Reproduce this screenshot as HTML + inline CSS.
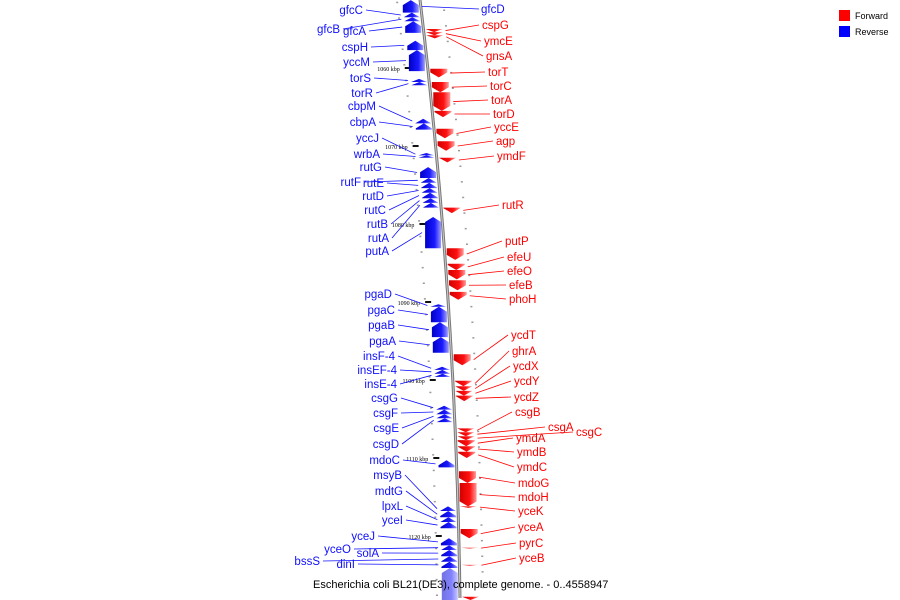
<!DOCTYPE html>
<html><head><meta charset="utf-8"><style>
body{margin:0;background:#fff;}
svg{display:block;font-family:"Liberation Sans","DejaVu Sans",sans-serif;}
</style></head><body>
<svg id="map" width="900" height="600" viewBox="0 0 900 600">
<defs>
<linearGradient id="gb" x1="0" x2="1" y1="0" y2="0"><stop offset="0" stop-color="#0000c8"/><stop offset="0.6" stop-color="#1a1aff"/><stop offset="1" stop-color="#9a9aff"/></linearGradient>
<linearGradient id="gr" x1="0" x2="1" y1="0" y2="0"><stop offset="0" stop-color="#d00000"/><stop offset="0.6" stop-color="#ff1010"/><stop offset="1" stop-color="#ff9a9a"/></linearGradient>
<linearGradient id="ga" x1="0" x2="1"><stop offset="0" stop-color="#aaa"/><stop offset="0.5" stop-color="#555"/><stop offset="1" stop-color="#bbb"/></linearGradient>
</defs>
<g id="layer"></g>
<text x="313" y="588" font-size="11" fill="#000">Escherichia coli BL21(DE3), complete genome. - 0..4558947</text>
<g>
<rect x="839" y="10" width="11" height="11" fill="#ff0000"/>
<text x="855" y="19" font-size="9">Forward</text>
<rect x="839" y="26" width="11" height="11" fill="#0000ff"/>
<text x="855" y="35" font-size="9">Reverse</text>
</g>
</svg>
<script>
// gene data: name, strand (+1 forward / -1 reverse), start kbp, end kbp
const geneNames = ["gfcD","gfcC","gfcB","gfcA","cspH","yccM","torS","torR","cbpM","cbpA","yccJ","wrbA","rutG","rutF","rutE","rutD","rutC","rutB","rutA","putA","pgaD","pgaC","pgaB","pgaA","insF-4","insEF-4","insE-4","csgG","csgF","csgE","csgD","mdoC","msyB","mdtG","lpxL","yceI","yceJ","yceO","solA","bssS","dinI","",
"cspG","ymcE","gnsA","torT","torC","torA","torD","yccE","agp","ymdF","rutR","putP","efeU","efeO","efeB","phoH","ycdT","ghrA","ycdX","ycdY","ycdZ","csgB","csgA","csgC","ymdA","ymdB","ymdC","mdoG","mdoH","yceK","yceA","pyrC","yceB",""];
const geneStrand = [-1,-1,-1,-1,-1,-1,-1,-1,-1,-1,-1,-1,-1,-1,-1,-1,-1,-1,-1,-1,-1,-1,-1,-1,-1,-1,-1,-1,-1,-1,-1,-1,-1,-1,-1,-1,-1,-1,-1,-1,-1,-1,
1,1,1,1,1,1,1,1,1,1,1,1,1,1,1,1,1,1,1,1,1,1,1,1,1,1,1,1,1,1,1,1,1,1];
const geneStart = [1051.3,1052.9,1053.5,1054.0,1056.5,1057.7,1061.4,1061.8,1066.5,1067.1,1070.9,1071.2,1072.7,1074.1,1074.7,1075.4,1076.0,1076.7,1077.3,1079.1,1090.3,1090.6,1092.6,1094.5,1098.3,1098.7,1099.2,1103.3,1103.8,1104.4,1104.9,1110.3,1116.2,1116.8,1117.6,1118.2,1120.3,1121.2,1121.8,1122.6,1123.3,1124.1,
1055.0,1055.4,1055.8,1060.1,1061.8,1063.1,1065.5,1067.8,1069.4,1071.5,1077.9,1083.1,1085.1,1085.9,1087.2,1088.7,1096.7,1100.1,1100.8,1101.4,1102.0,1106.2,1106.7,1107.2,1107.7,1108.5,1109.2,1111.7,1113.2,1116.2,1119.1,1121.5,1123.7,1127.8];
const geneEnd = [1052.9,1053.5,1054.0,1055.5,1057.7,1060.4,1061.8,1062.2,1067.1,1067.9,1071.2,1071.5,1074.1,1074.7,1075.4,1076.0,1076.7,1077.3,1077.9,1083.1,1090.6,1092.6,1094.5,1096.5,1098.7,1099.2,1099.6,1103.8,1104.4,1104.9,1105.4,1111.2,1116.8,1117.6,1118.2,1119.0,1121.2,1121.8,1122.6,1123.3,1124.1,1128.2,
1055.4,1055.8,1056.2,1061.2,1063.1,1065.5,1066.3,1069.0,1070.6,1072.1,1078.6,1084.6,1085.9,1087.1,1088.5,1089.7,1098.1,1100.8,1101.4,1102.0,1102.7,1106.7,1107.2,1107.7,1108.5,1109.2,1110.0,1113.2,1116.2,1116.4,1120.3,1121.6,1123.8,1128.2];
// label placement (layout): x = anchor edge, y = baseline
const labelX = [481,363,340,366,368,370,371,373,376,376,379,380,382,361,384,384,386,388,389,389,392,395,395,396,395,397,397,398,398,399,399,400,402,403,403,403,375,351,379,320,355,0,
482,484,486,488,490,491,493,494,496,497,502,505,507,507,509,509,511,512,513,514,514,515,548,576,516,517,517,518,518,518,518,519,519,0];
const labelY = [13,14,33,35,51,66,82,97,110,126,142,158,171,186,187,200,214,228,242,255,298,314,329,345,360,374,388,402,417,432,448,464,479,495,510,524,540,553,557,565,568,0,
29,45,60,76,90,104,118,131,145,160,209,245,261,275,289,303,339,355,370,385,401,416,431,436,442,456,471,487,501,515,531,547,562,0];
const tickKbp = [1060,1070,1080,1090,1100,1110,1120];

const NS="http://www.w3.org/2000/svg";
const layer=document.getElementById('layer');
function yScale(k){return 68+(k-1060)*7.8;}
function axisX(y){return 420+0.12*y-0.0000889*y*y;}
function mk(tag,attrs){const e=document.createElementNS(NS,tag);for(const k in attrs)e.setAttribute(k,attrs[k]);layer.appendChild(e);return e;}

// axis backbone
let pts=[];for(let y=-2;y<=602;y+=6)pts.push(axisX(y).toFixed(1)+","+y);
const ax=mk('polyline',{points:pts.join(' '),fill:'none',stroke:'#777','stroke-width':3});


const ax2=mk('polyline',{points:pts.join(' '),fill:'none',stroke:'#ccc','stroke-width':1});



// small dots every kbp
for(let k=1051;k<=1129;k++){
  const y=yScale(k+0.5);if(y<0||y>600)continue;
  const side=(k%2)?-1:1;
  const d=mk('rect',{x:axisX(y)+side*(side<0?24:22),y:y,width:2,height:1.5,fill:'#999'});
  
  
}
// major ticks
tickKbp.forEach(k=>{
  const y=yScale(k),x=axisX(y);
  const t=mk('rect',{x:x-23,y:y-1,width:6,height:2,fill:'#111'});
  
  
  const l=mk('text',{x:x-28,y:y+3,'font-size':6,'text-anchor':'end','font-family':'Liberation Serif, serif',fill:'#000'});
  l.textContent=k+' kbp';
  
  
});

// genes
geneNames.forEach((n,i)=>{
  const s=geneStrand[i];
  const y0=yScale(geneStart[i]),y1=yScale(geneEnd[i]);
  const ym=(y0+y1)/2, xa=axisX(ym);
  const h=y1-y0, ah=Math.min(5,h);
  let xl,xr,fill;
  if(s<0){xl=xa-18;xr=xa-2;fill='url(#gb)';}else{xl=xa+2;xr=xa+19;fill='url(#gr)';}
  const xc=(xl+xr)/2;
  let p;
  if(s>0) p=[[xl,y0],[xr,y0],[xr,y1-ah],[xc,y1],[xl,y1-ah]];
  else p=[[xc,y0],[xr,y0+ah],[xr,y1],[xl,y1],[xl,y0+ah]];
  const op=(i===41)?0.55:1;
  const g=mk('polygon',{points:p.map(q=>q[0].toFixed(1)+','+q[1].toFixed(1)).join(' '),fill:fill,opacity:op});
  
  
  if(!n)return;
  const c=s>0?'#ff0000':'#1010ff';
  const lx=labelX[i],ly=labelY[i];
  let x1,yL,x2;
  if(s<0){
    if(n==='gfcD'){x1=lx-2;x2=xr+3;}else{x1=lx+3;x2=xl-3;}
  }else{x1=lx-3;x2=xr+3;}
  yL=ly-4;
  const ln=mk('line',{x1:x1,y1:yL,x2:x2,y2:ym,stroke:c,'stroke-width':0.8});
  
  
  const anchor=(s<0&&n!=='gfcD')?'end':'start';
  const t=mk('text',{x:lx,y:ly,'font-size':11.5,fill:c,'text-anchor':anchor});
  t.textContent=n;
  
  
});
</script>
</body></html>
